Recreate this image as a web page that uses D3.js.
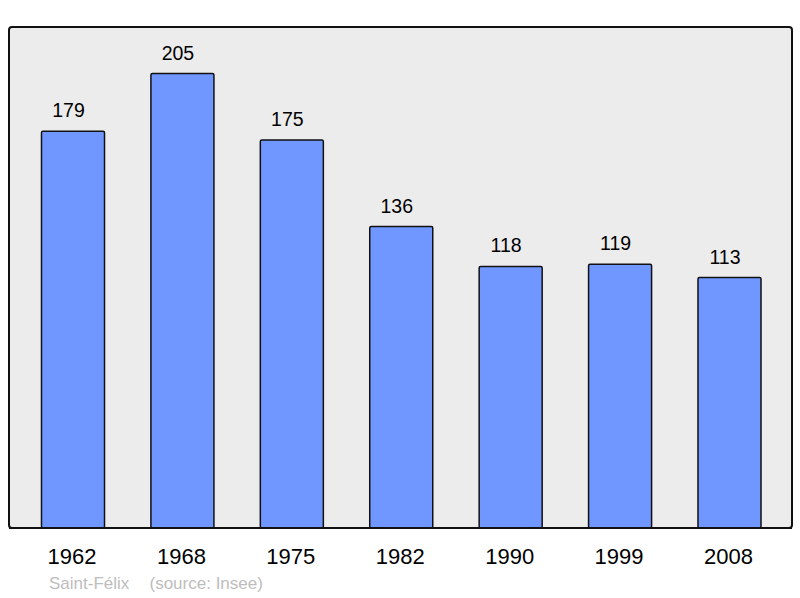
<!DOCTYPE html>
<html><head><meta charset="utf-8">
<script src="https://cdn.jsdelivr.net/npm/d3@7"></script>
<style>body{margin:0;background:#fff}svg{display:block}text{font-family:"Liberation Sans",Arial,sans-serif}</style>
</head><body>
<script>
const years = ["1962","1968","1975","1982","1990","1999","2008"];
const population = [179,205,175,136,118,119,113];
const commune = "Saint-Félix";
const source = "(source: Insee)";

const W=800,H=598;
const svg=d3.select("body").append("svg").attr("width",W).attr("height",H);
const frame={x0:9,y0:27,x1:792,y1:528};
svg.append("rect").attr("x",frame.x0).attr("y",frame.y0).attr("width",frame.x1-frame.x0).attr("height",frame.y1-frame.y0)
  .attr("rx",3).attr("fill","#ececec").attr("stroke","#111").attr("stroke-width",2);

const x=d3.scaleBand().domain(years).range([18.3,784.2]).paddingInner(0.424).paddingOuter(0.212);
const y=d3.scaleLinear().domain([0,226]).range([frame.y1,frame.y0]);

const data=years.map((yr,i)=>({yr,v:population[i]}));
svg.selectAll("rect.bar").data(data).join("rect").attr("class","bar")
  .attr("x",d=>x(d.yr)).attr("y",d=>y(d.v)).attr("width",x.bandwidth()).attr("height",d=>y(0)-y(d.v))
  .attr("rx",1.5).attr("fill","#7097ff").attr("stroke","#111").attr("stroke-width",1.5);

svg.selectAll("text.val").data(data).join("text").attr("class","val")
  .attr("x",d=>x(d.yr)+x.bandwidth()/2-4.5).attr("y",d=>y(d.v)-14)
  .attr("text-anchor","middle").attr("font-size",19.5).attr("fill","#000").text(d=>d.v);

svg.append("line").attr("x1",frame.x0).attr("x2",frame.x1).attr("y1",frame.y1).attr("y2",frame.y1).attr("stroke","#111").attr("stroke-width",2);

const axis=d3.axisBottom(x).tickSize(0).tickPadding(0);
const g=svg.append("g").attr("transform",`translate(-1,${frame.y1})`).call(axis);
g.select(".domain").remove();
g.selectAll("text").attr("dy",null).attr("y",36).attr("font-size",22).attr("fill","#000").style("font-family",'"Liberation Sans",Arial,sans-serif');

svg.append("text").attr("x",49).attr("y",589).attr("font-size",17).attr("fill","#bdbdbd").text(commune);
svg.append("text").attr("x",149.5).attr("y",589).attr("font-size",17).attr("fill","#bdbdbd").text(source);
</script>
</body></html>
